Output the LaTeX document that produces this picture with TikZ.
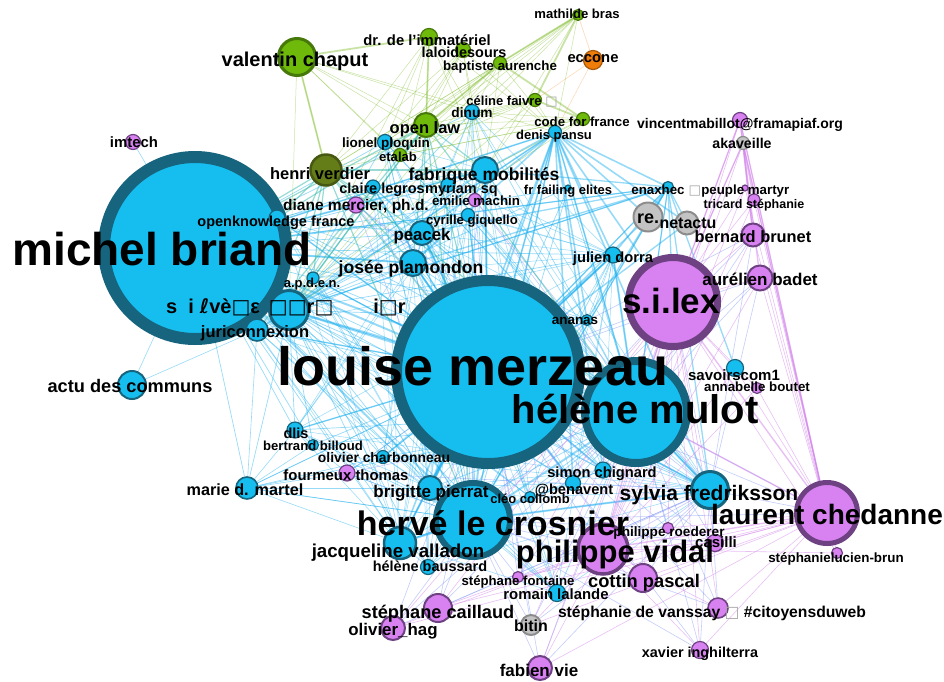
\documentclass[tikz,border=0pt]{standalone}
\usepackage{fontspec}
\setmainfont{Liberation Sans}
\newfontfamily\symfont{DejaVu Sans}
\usetikzlibrary{backgrounds}

\definecolor{nblue}{RGB}{22,190,240}
\definecolor{nbluedk}{RGB}{22,100,125}
\definecolor{npurple}{RGB}{215,130,240}
\definecolor{npurpledk}{RGB}{110,65,130}
\definecolor{ngreen}{RGB}{110,185,10}
\definecolor{ngreendk}{RGB}{70,120,10}
\definecolor{nolive}{RGB}{100,125,25}
\definecolor{norange}{RGB}{240,125,10}
\definecolor{ngrey}{RGB}{195,195,195}
\definecolor{eblue}{RGB}{25,175,240}
\definecolor{eviolet}{RGB}{125,145,245}
\definecolor{epurple}{RGB}{210,130,235}
\definecolor{egreen}{RGB}{120,185,30}
\definecolor{eteal}{RGB}{50,185,170}

\newcommand{\tofu}{{\symfont\mdseries □}}
\newcommand{\ftofu}{{\symfont\mdseries\color{black!35}□}}

\begin{document}
\begin{tikzpicture}[x=1pt, y=-1pt,
    person/.style={circle, inner sep=0pt, minimum size=#1, line width=1.2pt},
    bnode/.style={person=#1, fill=nblue, draw=nbluedk},
    pnode/.style={person=#1, fill=npurple, draw=npurpledk},
    gnode/.style={person=#1, fill=ngreen, draw=ngreendk},
    greynode/.style={person=#1, fill=ngrey, draw=black!45},
    lbl/.style={font=\bfseries\fontsize{#1}{#1}\selectfont, anchor=base, inner sep=0pt, text=black},
    be/.style={draw=eblue, line width=#1, opacity=.45},
    ve/.style={draw=eviolet, line width=#1, opacity=.45},
    pe/.style={draw=epurple, line width=#1, opacity=.5},
    ge/.style={draw=egreen, line width=#1, opacity=.4},
    te/.style={draw=eteal, line width=#1, opacity=.5}]
\useasboundingbox (0,0) rectangle (944,681);
% big nodes
\node[bnode=182, line width=12pt] (mb) at (195,248) {};
\node[bnode=183, line width=11pt] (lm) at (488,372) {};
\node[bnode=102, line width=8pt] (hm) at (636,412) {};
\node[pnode=89, line width=7pt] (sil) at (673,302) {};
\node[pnode=61, line width=5pt] (lc) at (827,513) {};
\node[bnode=74, line width=6pt] (hlc) at (473,520) {};
\node[pnode=50, line width=3.5pt] (pv) at (603,549) {};
\node[bnode=37, line width=3pt] (sf) at (710,490) {};
\node[bnode=39, line width=3pt] (sv) at (289,310) {};
\node[gnode=37, line width=3pt] (vc) at (297,57) {};
\node[person=31, line width=2.5pt, fill=nolive, draw=nolive!70!black] (hv) at (326,170) {};
% medium nodes
\node[bnode=26, line width=2pt] (fm) at (485,170) {};
\node[gnode=24, line width=2pt] (ol) at (426,125) {};
\node[bnode=24, line width=2pt] (pk) at (422,233) {};
\node[bnode=26, line width=2pt] (jp) at (413,263) {};
\node[bnode=13] (dp) at (555,132) {};
\node[bnode=11] (ex) at (668,187) {};
\node[bnode=16] (jd) at (613,255) {};
\node[bnode=16] (okf) at (277,218) {};
\node[bnode=12] (apd) at (313,278) {};
\node[bnode=22, line width=1.6pt] (jx) at (257,330) {};
\node[bnode=14] (cl) at (373,187) {};
\node[bnode=14] (ms) at (448,185) {};
\node[pnode=13] (em) at (475,200) {};
\node[pnode=16] (dm) at (356,205) {};
\node[bnode=13] (cg) at (468,215) {};
\node[bnode=15] (lp) at (385,142) {};
\node[gnode=13] (et) at (400,155) {};
\node[bnode=15] (dn) at (472,112) {};
\node[gnode=13] (cf) at (535,100) {};
\node[gnode=13] (cff) at (583,119) {};
\node[gnode=17] (dri) at (429,37) {};
\node[gnode=15] (lds) at (463,50) {};
\node[gnode=13] (ba) at (500,63) {};
\node[gnode=11] (mbr) at (578,15) {};
\node[person=19, fill=norange, draw=norange!70!black] (ec) at (593,60) {};
\node[pnode=15] (im) at (133,142) {};
\node[pnode=15] (vm) at (740,120) {};
\node[greynode=13] (ak) at (743,143) {};
\node[pnode=6] (pmt) at (745,188) {};
\node[pnode=12] (ts) at (754,200) {};
\node[greynode=29, line width=2pt] (re) at (648,217) {};
\node[greynode=23, line width=2pt] (na) at (687,223) {};
\node[pnode=23, line width=2pt] (bb) at (753,235) {};
\node[pnode=25, line width=2pt] (ab) at (760,278) {};
\node[bnode=6] (ffe) at (568,188) {};
\node[bnode=11] (an) at (587,320) {};
\node[bnode=17] (sc1) at (735,368) {};
\node[pnode=11] (abt) at (757,388) {};
\node[bnode=16] (dl) at (295,430) {};
\node[bnode=11] (bbi) at (313,445) {};
\node[bnode=13] (och) at (383,457) {};
\node[pnode=16] (ft) at (347,473) {};
\node[bnode=22, line width=1.6pt] (mdm) at (247,488) {};
\node[bnode=24, line width=2pt] (bp) at (430,488) {};
\node[bnode=16] (sch) at (603,470) {};
\node[bnode=15] (ben) at (573,483) {};
\node[bnode=11] (cc) at (530,497) {};
\node[bnode=32, line width=2.5pt] (jv) at (400,543) {};
\node[bnode=15] (hb) at (428,567) {};
\node[pnode=11] (sfo) at (518,577) {};
\node[bnode=17] (rl) at (557,593) {};
\node[pnode=28, line width=2pt] (cp) at (643,578) {};
\node[pnode=11] (pr) at (668,528) {};
\node[pnode=17] (cas) at (715,543) {};
\node[pnode=11] (slb) at (837,553) {};
\node[pnode=28, line width=2pt] (sca) at (438,608) {};
\node[pnode=24, line width=2pt] (oh) at (393,628) {};
\node[greynode=20, line width=2pt] (bt) at (531,625) {};
\node[pnode=20, line width=1.6pt] (sdv) at (718,608) {};
\node[pnode=17] (xi) at (700,650) {};
\node[pnode=24, line width=2pt] (fv) at (540,668) {};
\node[bnode=28, line width=2pt] (adc) at (132,385) {};
% connectors
\begin{scope}[on background layer]
\fill[white] (0,0) rectangle (944,681);
\foreach \a in {mb,lm,hm,hlc,sv}
  \foreach \b in {fm,pk,jp,dp,ex,jd,okf,apd,jx,cl,ms,cg,lp,dn,dl,bbi,och,sch,ben,cc,hb,rl,an,bp,jv,sf,mdm,ffe}
    \draw[be=0.7] (\a) -- (\b);
\foreach \a in {fm,pk,jp,bp,jv,sf,jd}
  \foreach \b in {cl,ms,cg,lp,dn,dl,och,sch,ben,cc,hb,rl,an,okf,apd,jx}
    \draw[be=0.5] (\a) -- (\b);
\foreach \b in {fm,pk,jp,jd,okf,apd,jx,cl,cg,dl,och,sch,ben,bp,jv,an,re,na}
  \draw[be=1.4] (lm) -- (\b);
\foreach \a/\b in {mb/lm,mb/hm,lm/hm,lm/hlc,hm/hlc,mb/hlc,lm/sf,hm/sf,hlc/sf,lm/jv,hlc/jv,lm/bp,mb/sv,lm/sv,hm/sv,lm/fm,mb/fm,lm/jp,mb/jp,lm/pk,hm/jd,lm/jd}
  \draw[be=2] (\a) -- (\b);
\foreach \b in {mb,lm,hm,hlc,sv,fm,pk,jp,jd,sil,re,ex,sf,bp,an,jv,sch,ben,na}
  \draw[be=1.6] (dp) -- (\b);
\foreach \b in {lm,hm,sil,re,na,jd,fm,pk,hlc,sf,mb,an,sc1,jp,sv}
  \draw[be=1.3] (ex) -- (\b);
\foreach \a in {lm,hm,hlc,sf}
  \foreach \b in {sil,lc,pv,cp,cas,pr,sca,fv,xi,sdv,oh,sfo,bt,ft,em,dm,ab,bb}
    \draw[ve=0.6] (\a) -- (\b);
\foreach \a in {lc,sil,pv}
  \foreach \b in {ab,bb,ak,vm,ts,pmt,cp,cas,pr,sdv,xi,fv,slb,sca,oh,bt,sfo,abt,sc1}
    \draw[pe=0.6] (\a) -- (\b);
\foreach \a/\b in {lc/sil,lc/pv,sil/pv,ak/ts,ak/bb,ak/ab,ak/sil,ak/lc,vm/ak,vm/bb,vm/lc,vm/sil,lc/hm,sil/hm}
  \draw[pe=1.4] (\a) -- (\b);
\foreach \a in {vc,dri,ba,lds,mbr,cf,cff}
  \foreach \b in {ol,hv,et,lp,dn,fm,dp,sv}
    \draw[ge=0.5] (\a) -- (\b);
\foreach \a/\b in {vc/dri,vc/hv,mbr/cf,mbr/ba,dri/ol,ba/ol,cf/cff,ba/cff}
  \draw[ge=1.8] (\a) -- (\b);
\foreach \a in {hv,ol}
  \foreach \b in {mb,lm,sv,okf,apd,jx,jp,pk,fm,hm,hlc}
    \draw[te=1.2] (\a) -- (\b);
\foreach \a/\b in {im/mb,adc/mb,adc/jx,mdm/jx,mdm/dl,mdm/bbi,mdm/lm,mdm/hlc,mdm/bp,mdm/ft,mdm/och,mdm/jv,ft/lm,ft/hlc,ft/dl}
  \draw[be=0.6] (\a) -- (\b);
\foreach \b in {mbr,dp,cf}
  \draw[draw=norange, opacity=.3, line width=0.5pt] (ec) -- (\b);
\end{scope}
% labels
\node[lbl=46] (t_mb) at (162,265) {michel briand};
\node[lbl=54] (t_lm) at (473,385) {louise merzeau};
\node[lbl=40] (t_hm) at (635,423) {hélène mulot};
\node[lbl=35] (t_sil) at (671,313) {s.i.lex};
\node[lbl=28] (t_lc) at (827,524) {laurent chedanne};
\node[lbl=34] (t_hlc) at (493,535) {hervé le crosnier};
\node[lbl=31] (t_pv) at (615,562) {philippe vidal};
\node[lbl=21] (t_sf) at (709,500) {sylvia fredriksson};
\node[lbl=20] (t_vc) at (295,66) {valentin chaput};
\node[lbl=16.5] (t_hv) at (320,179) {henri verdier};
\node[lbl=17.5] (t_fm) at (484,180) {fabrique mobilités};
\node[lbl=16.5] (t_ol) at (425,133) {open law};
\node[lbl=16.8] (t_pk) at (422,240) {peacek};
\node[lbl=17.6] (t_jp) at (411,273) {josée plamondon};
\node[lbl=20, anchor=base west] (t_sv) at (166,313) {s\hspace{11pt}i\hspace{6pt}{\symfont ℓ}vè\tofu ε\hspace{9pt}\tofu\tofu r\tofu\hspace{40pt}i\tofu r};
\node[lbl=16.5] (t_jx) at (255,337) {juriconnexion};
\node[lbl=13] (t_apd) at (312,287) {a.p.d.e.n.};
\node[lbl=14.5] (t_okf) at (276,226) {openknowledge france};
\node[lbl=15.5] (t_dm) at (356,210) {diane mercier, ph.d.};
\node[lbl=14.5, anchor=base east] (t_cl) at (425,193) {claire legros};
\node[lbl=14.5, anchor=base west] (t_ms) at (425,193) {myriam sq};
\node[lbl=13.3] (t_em) at (476,205) {emilie machin};
\node[lbl=13.1] (t_cg) at (472,224) {cyrille giquello};
\node[lbl=13.5] (t_lp) at (386,147) {lionel ploquin};
\node[lbl=13.1] (t_et) at (398,161) {etalab};
\node[lbl=13.7] (t_dn) at (472,117) {dinum};
\node[lbl=13] (t_cf) at (512,105) {céline faivre \ftofu};
\node[lbl=13.2] (t_cff) at (582,126) {code for france};
\node[lbl=13] (t_dp) at (554,139) {denis pansu};
\node[lbl=14.8] (t_dri) at (427,45) {dr. de l'immatériel};
\node[lbl=14.4] (t_lds) at (464,57) {laloidesours};
\node[lbl=13.3] (t_ba) at (500,70) {baptiste aurenche};
\node[lbl=13.1] (t_mbr) at (577,18) {mathilde bras};
\node[lbl=14.8] (t_ec) at (593,62) {eccone};
\node[lbl=14.9] (t_im) at (134,147) {imtech};
\node[lbl=14] (t_vm) at (740,128) {vincentmabillot@framapiaf.org};
\node[lbl=14.2] (t_ak) at (742,148) {akaveille};
\node[lbl=13.3] (t_ex) at (658,194) {enaxhec};
\node[lbl=13.3] (t_pmt) at (739,194) {\ftofu peuple martyr};
\node[lbl=12.5] (t_ts) at (754,208) {tricard stéphanie};
\node[lbl=18] (t_re) at (648,223) {re.};
\node[lbl=16] (t_na) at (688,228) {netactu};
\node[lbl=16.4] (t_bb) at (753,242) {bernard brunet};
\node[lbl=17] (t_ab) at (760,285) {aurélien badet};
\node[lbl=14.7] (t_jd) at (613,262) {julien dorra};
\node[lbl=13] (t_ffe) at (568,194) {fr failing elites};
\node[lbl=13.4] (t_an) at (575,324) {ananas};
\node[lbl=15] (t_sc1) at (734,380) {savoirscom1};
\node[lbl=13.3] (t_abt) at (757,391) {annabelle boutet};
\node[lbl=14.5] (t_dl) at (296,438) {dlis};
\node[lbl=13.1] (t_bbi) at (313,450) {bertrand billoud};
\node[lbl=13.9] (t_och) at (384,462) {olivier charbonneau};
\node[lbl=14.9] (t_ft) at (346,480) {fourmeux thomas};
\node[lbl=16.2] (t_mdm) at (245,495) {marie d. martel};
\node[lbl=17] (t_bp) at (431,497) {brigitte pierrat};
\node[lbl=14.7] (t_sch) at (602,477) {simon chignard};
\node[lbl=14.6] (t_ben) at (574,494) {@benavent};
\node[lbl=13] (t_cc) at (530,503) {cléo collomb};
\node[lbl=18.7] (t_jv) at (398,557) {jacqueline valladon};
\node[lbl=14.5] (t_hb) at (430,571) {hélène baussard};
\node[lbl=13.2] (t_sfo) at (518,585) {stéphane fontaine};
\node[lbl=14.9] (t_rl) at (556,599) {romain lalande};
\node[lbl=18.3] (t_cp) at (644,587) {cottin pascal};
\node[lbl=13.6] (t_pr) at (669,536) {philippe roederer};
\node[lbl=15] (t_cas) at (716,547) {casilli};
\node[lbl=13.4] (t_slb) at (836,562) {stéphanielucien-brun};
\node[lbl=18.2] (t_sca) at (438,618) {stéphane caillaud};
\node[lbl=16.9] (t_oh) at (393,635) {olivier\_hag};
\node[lbl=16] (t_bt) at (531,631) {bitin};
\node[lbl=15.7] (t_sdv) at (712,617) {stéphanie de vanssay \ftofu\ \#citoyensduweb};
\node[lbl=14.4] (t_xi) at (700,657) {xavier inghilterra};
\node[lbl=17] (t_fv) at (539,676) {fabien vie};
\node[lbl=18.2] (t_adc) at (130,392) {actu des communs};
\end{tikzpicture}
\end{document}
